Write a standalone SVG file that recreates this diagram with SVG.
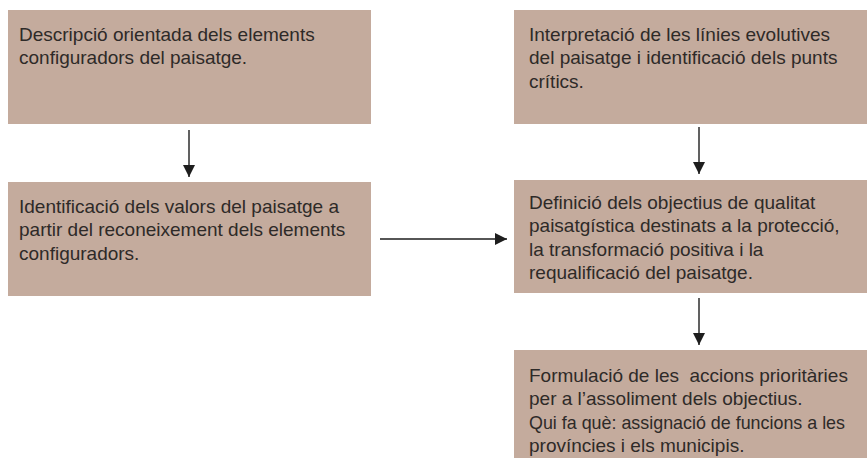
<svg xmlns="http://www.w3.org/2000/svg" width="867" height="461" viewBox="0 0 867 461">
  <style>
    .box { fill: #c4ab9d; }
    .t { font-family: "Liberation Sans", Arial, sans-serif; font-size: 19px; fill: #2e2a28; }
    .conn { stroke: #1e1e1e; stroke-width: 1.4; fill: none; }
  </style>
  <defs>
    <marker id="ah" viewBox="0 0 10 10" refX="10" refY="5" markerWidth="12" markerHeight="12" markerUnits="userSpaceOnUse" orient="auto">
      <path d="M0,0 L10,5 L0,10 Z" fill="#1e1e1e"/>
    </marker>
  </defs>
  <rect width="867" height="461" fill="#ffffff"/>

  <g id="n1">
    <rect class="box" x="8" y="10" width="363" height="114"/>
    <text class="t" x="19" y="40.5">Descripció orientada dels elements</text>
    <text class="t" x="19" y="64">configuradors del paisatge.</text>
  </g>

  <g id="n2">
    <rect class="box" x="8" y="182" width="363" height="114"/>
    <text class="t" x="19" y="212.5">Identificació dels valors del paisatge a</text>
    <text class="t" x="19" y="236">partir del reconeixement dels elements</text>
    <text class="t" x="19" y="259.5">configuradors.</text>
  </g>

  <g id="n3">
    <rect class="box" x="514" y="10" width="353" height="114"/>
    <text class="t" x="529" y="40.5">Interpretació de les línies evolutives</text>
    <text class="t" x="529" y="64">del paisatge i identificació dels punts</text>
    <text class="t" x="529" y="87.5">crítics.</text>
  </g>

  <g id="n4">
    <rect class="box" x="514" y="180" width="353" height="113"/>
    <text class="t" x="529" y="208.5">Definició dels objectius de qualitat</text>
    <text class="t" x="529" y="232">paisatgística destinats a la protecció,</text>
    <text class="t" x="529" y="255.5">la transformació positiva i la</text>
    <text class="t" x="529" y="279">requalificació del paisatge.</text>
  </g>

  <g id="n5">
    <rect class="box" x="514" y="350" width="353" height="108"/>
    <text class="t" x="529" y="381.5" xml:space="preserve">Formulació de les  accions prioritàries</text>
    <text class="t" x="529" y="405">per a l’assoliment dels objectius.</text>
    <text class="t" x="529" y="428.5" textLength="316" lengthAdjust="spacingAndGlyphs">Qui fa què: assignació de funcions a les</text>
    <text class="t" x="529" y="452">províncies i els municipis.</text>
  </g>

  <g id="connectors">
    <line class="conn" x1="189" y1="130" x2="189" y2="177" marker-end="url(#ah)"/>
    <line class="conn" x1="699" y1="127" x2="699" y2="174" marker-end="url(#ah)"/>
    <line class="conn" x1="699" y1="298" x2="699" y2="345" marker-end="url(#ah)"/>
    <line class="conn" x1="380" y1="239" x2="507" y2="239" marker-end="url(#ah)"/>
  </g>
</svg>
